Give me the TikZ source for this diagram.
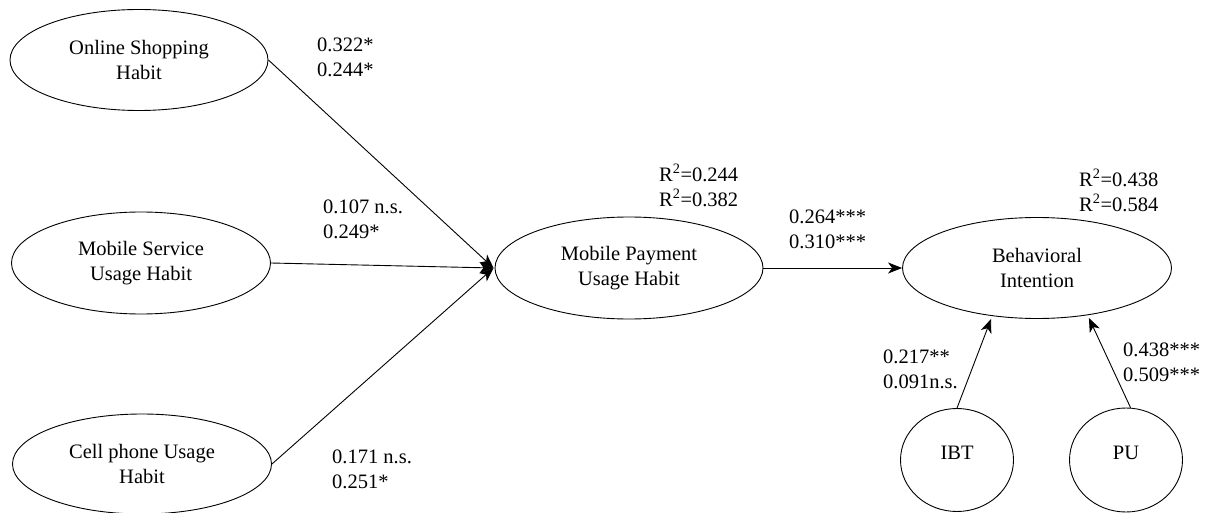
\documentclass[tikz,border=0pt]{standalone}
\usepackage{fontspec}
\setmainfont{Liberation Serif}
\usetikzlibrary{shapes.geometric,arrows.meta}
\begin{document}
\begin{tikzpicture}[x=1pt,y=-1pt,
  every node/.style={font=\fontsize{20.5}{25}\selectfont},
  construct/.style={draw,ellipse,line width=0.9pt,inner sep=0pt,align=center},
  lbl/.style={anchor=west,align=left,inner sep=0pt},
  path/.style={line width=0.9pt,-{Stealth[length=14pt,width=11pt,inset=4pt]}}]
\useasboundingbox (0,0) rectangle (1209,513);
\node[construct,minimum width=258pt,minimum height=101pt] (os) at (139,60) {Online Shopping\\Habit};
\node[construct,minimum width=259pt,minimum height=102pt] (ms) at (141,263) {Mobile Service\\Usage Habit};
\node[construct,minimum width=259pt,minimum height=100pt] (cp) at (142,464) {Cell phone Usage\\Habit};
\node[construct,minimum width=268pt,minimum height=102pt] (mp) at (629,268) {Mobile Payment\\Usage Habit};
\node[construct,minimum width=269pt,minimum height=101pt] (bi) at (1037,268) {Behavioral\\Intention};
\node[construct,minimum width=113pt,minimum height=103pt] (ibt) at (957,460) {\raisebox{14pt}{IBT}};
\node[construct,minimum width=113pt,minimum height=104pt] (pu) at (1126,460) {\raisebox{14pt}{PU}};

\draw[path] (os.east) -- ([xshift=-1pt]mp.west);
\draw[path] (ms.east) -- ([xshift=-1pt]mp.west);
\draw[path] (cp.east) -- ([xshift=-1pt]mp.west);
\draw[path] (mp.east) -- (bi.west);
\draw[path,shorten >=3pt] (ibt.north) -- (bi.227);
\draw[path,shorten >=3pt] (pu.85) -- (bi.-43);

\node[lbl] (l1) at (317,57.5) {0.322*\\0.244*};
\node[lbl] (l2) at (323,219.5) {0.107 n.s.\\0.249*};
\node[lbl] (l3) at (332,469.5) {0.171 n.s.\\0.251*};
\node[lbl] (r1) at (659,185.5) {R\textsuperscript{2}=0.244\\R\textsuperscript{2}=0.382};
\node[lbl] (l4) at (789,229.5) {0.264***\\0.310***};
\node[lbl] (r2) at (1079,190.5) {R\textsuperscript{2}=0.438\\R\textsuperscript{2}=0.584};
\node[lbl] (l5) at (883,369.5) {0.217**\\0.091n.s.};
\node[lbl] (l6) at (1123,362) {0.438***\\0.509***};
\end{tikzpicture}
\end{document}
